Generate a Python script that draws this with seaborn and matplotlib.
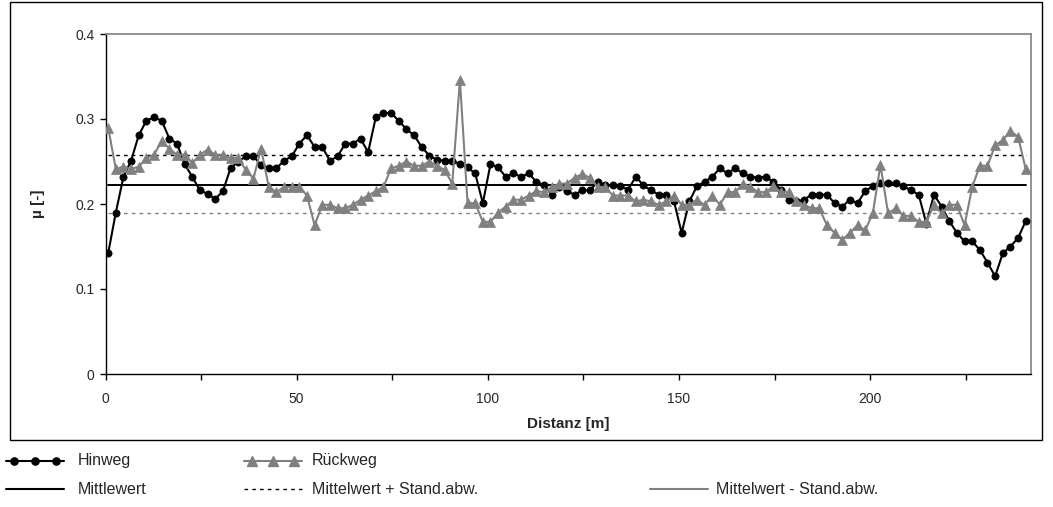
import numpy as np
import pandas as pd
import seaborn as sns
import matplotlib
matplotlib.use("Agg")
import matplotlib.pyplot as plt
from matplotlib.lines import Line2D
from matplotlib.patches import Rectangle
from matplotlib.ticker import FuncFormatter

# ---------------- data ----------------
distanz = np.round(np.arange(121) * 2.0 + 0.7, 1)

hinweg = [0.142, 0.190, 0.232, 0.251, 0.281, 0.298, 0.302, 0.298, 0.277, 0.271,
          0.247, 0.232, 0.216, 0.212, 0.206, 0.215, 0.242, 0.250, 0.256, 0.256,
          0.246, 0.242, 0.242, 0.251, 0.256, 0.271, 0.281, 0.267, 0.267, 0.251,
          0.256, 0.271, 0.271, 0.277, 0.261, 0.302, 0.307, 0.307, 0.298, 0.288,
          0.281, 0.267, 0.257, 0.252, 0.251, 0.251, 0.247, 0.243, 0.236, 0.201,
          0.247, 0.243, 0.232, 0.236, 0.232, 0.236, 0.226, 0.222, 0.211, 0.220,
          0.215, 0.211, 0.216, 0.216, 0.226, 0.222, 0.222, 0.221, 0.217, 0.232,
          0.222, 0.216, 0.211, 0.211, 0.203, 0.166, 0.203, 0.221, 0.226, 0.232,
          0.242, 0.236, 0.242, 0.236, 0.232, 0.231, 0.232, 0.226, 0.216, 0.205,
          0.203, 0.205, 0.211, 0.211, 0.211, 0.201, 0.197, 0.205, 0.201, 0.215,
          0.221, 0.225, 0.225, 0.225, 0.221, 0.216, 0.211, 0.177, 0.211, 0.197,
          0.180, 0.166, 0.156, 0.156, 0.146, 0.131, 0.115, 0.142, 0.150, 0.160,
          0.180]

rueckweg = [0.290, 0.241, 0.244, 0.241, 0.244, 0.254, 0.258, 0.274, 0.265, 0.258,
            0.258, 0.248, 0.258, 0.264, 0.258, 0.258, 0.254, 0.254, 0.240, 0.230,
            0.265, 0.220, 0.214, 0.220, 0.220, 0.220, 0.210, 0.175, 0.199, 0.199,
            0.195, 0.195, 0.199, 0.205, 0.210, 0.215, 0.220, 0.242, 0.245, 0.250,
            0.245, 0.245, 0.250, 0.245, 0.240, 0.224, 0.346, 0.201, 0.201, 0.179,
            0.179, 0.190, 0.197, 0.205, 0.205, 0.210, 0.215, 0.214, 0.220, 0.224,
            0.224, 0.231, 0.235, 0.231, 0.220, 0.220, 0.210, 0.210, 0.210, 0.203,
            0.205, 0.203, 0.199, 0.203, 0.210, 0.199, 0.199, 0.205, 0.199, 0.210,
            0.199, 0.214, 0.214, 0.224, 0.220, 0.214, 0.214, 0.221, 0.214, 0.214,
            0.203, 0.199, 0.195, 0.195, 0.175, 0.166, 0.158, 0.166, 0.175, 0.169,
            0.189, 0.246, 0.189, 0.195, 0.186, 0.186, 0.179, 0.179, 0.199, 0.189,
            0.199, 0.199, 0.175, 0.220, 0.245, 0.245, 0.269, 0.275, 0.286, 0.279,
            0.241]

mittelwert = 0.2228
mittelwert_plus = 0.2572
mittelwert_minus = 0.1897

x_ticks = [0, 25, 50, 75, 100, 125, 150, 175, 200, 225]
y_ticks = [0, 0.1, 0.2, 0.3, 0.4]

labels = ["Hinweg", "Rückweg", "Mittlewert", "Mittelwert + Stand.abw.", "Mittelwert - Stand.abw."]

# ---------------- style ----------------
sns.set_style("white")
plt.rcParams["font.family"] = ["Liberation Sans", "DejaVu Sans"]

GRAY = "#808080"
W, H = 1053, 507
fig = plt.figure(figsize=(W / 100, H / 100), dpi=100)
ax = fig.add_axes([105.5 / W, 1 - 374 / H, (1030.7 - 105.5) / W, (374 - 34) / H])

df = pd.DataFrame({"Distanz": distanz, "Hinweg": hinweg, "Rueckweg": rueckweg})

sns.lineplot(data=df, x="Distanz", y="Hinweg", ax=ax, color="black", linewidth=1.5,
             marker="o", markersize=5.2, markeredgecolor="black", markeredgewidth=0.5,
             estimator=None, sort=False, zorder=3)
sns.lineplot(data=df, x="Distanz", y="Rueckweg", ax=ax, color=GRAY, linewidth=1.5,
             marker="^", markersize=7, markeredgecolor=GRAY, markeredgewidth=0.5,
             estimator=None, sort=False, zorder=4)

x_span = [distanz[0], distanz[-1]]
ax.plot(x_span, [mittelwert] * 2, color="black", linewidth=1.4, zorder=2)
ax.plot(x_span, [mittelwert_plus] * 2, color="black", linewidth=1.0,
        linestyle=(0, (2.6, 3.0)), zorder=2)
ax.plot(x_span, [mittelwert_minus] * 2, color=GRAY, linewidth=1.0,
        linestyle=(0, (2.6, 3.0)), zorder=2)

ax.set_xlim(0, 242)
ax.set_ylim(0, 0.4)
ax.set_xticks(x_ticks)
ax.xaxis.set_major_formatter(FuncFormatter(lambda v, p: f"{int(v)}" if v % 50 == 0 else ""))
ax.set_yticks(y_ticks)
ax.yaxis.set_major_formatter(FuncFormatter(lambda v, p: "0" if v == 0 else f"{v:.1f}"))
ax.tick_params(axis="both", which="major", direction="out", length=4, width=1,
               color="black", labelsize=10, bottom=True, left=True)
ax.tick_params(axis="x", pad=9)
ax.tick_params(axis="y", pad=4)

for s in ["left", "bottom"]:
    ax.spines[s].set_color("black")
    ax.spines[s].set_linewidth(1.0)
for s in ["top", "right"]:
    ax.spines[s].set_color(GRAY)
    ax.spines[s].set_linewidth(1.2)

ax.set_xlabel("")
ax.set_ylabel("")
fig.text(568 / W, 1 - 424 / H, "Distanz [m]", ha="center", va="center",
         fontsize=11, fontweight="bold")
fig.text(38 / W, 1 - 204 / H, "µ [-]", ha="center", va="center",
         fontsize=11, fontweight="bold", rotation=90)

# outer chart border
fig.add_artist(Rectangle((10 / W, 1 - 440 / H), 1032 / W, 438 / H,
                         transform=fig.transFigure, fill=False,
                         edgecolor="black", linewidth=1.0))

# ---------------- legend ----------------
def legend_entry(x0, x1, y, text_x, label, **kw):
    fig.add_artist(Line2D([x0 / W, x1 / W], [1 - y / H] * 2, transform=fig.transFigure, **kw))
    fig.text(text_x / W, 1 - y / H, label, ha="left", va="center", fontsize=11.5)

def legend_markers(x0, x1, y, **kw):
    xs = np.linspace(x0 + 8, x1 - 8, 3) / W
    fig.add_artist(Line2D(xs, [1 - y / H] * 3, transform=fig.transFigure,
                          linestyle="none", **kw))

legend_entry(6, 64, 461, 78, labels[0], color="black", linewidth=1.5)
legend_markers(6, 64, 461, marker="o", markersize=5.2, color="black")
legend_entry(244, 302, 461, 312, labels[1], color=GRAY, linewidth=1.5)
legend_markers(244, 302, 461, marker="^", markersize=7, color=GRAY)
legend_entry(6, 64, 489, 78, labels[2], color="black", linewidth=1.5)
legend_entry(244, 302, 489, 312, labels[3], color="black", linewidth=1.0,
             linestyle=(0, (2.6, 3.0)))
legend_entry(650, 708, 489, 716, labels[4], color=GRAY, linewidth=1.5)

fig.savefig("out.png", dpi=100)
